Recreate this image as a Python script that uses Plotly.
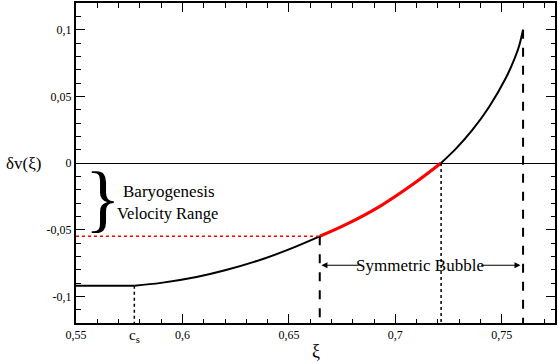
import plotly.graph_objects as go

# values
xi = [0.55, 0.5774, 0.59, 0.6066, 0.62, 0.6378, 0.65, 0.6645,
      0.6776, 0.6933, 0.7089, 0.7215, 0.7285, 0.7362, 0.7441, 0.7519, 0.7558, 0.7581, 0.76]
dv = [-0.092, -0.092, -0.0899, -0.0855, -0.0805, -0.072, -0.0648, -0.055,
      -0.0455, -0.0319, -0.0152, 0.0, 0.0108, 0.0248, 0.0422, 0.0637, 0.0776, 0.0876, 0.1]

cs = 0.5774          # sound speed
i_lo, i_hi = 7, 11   # red segment: baryogenesis velocity range
y_min, y_max = -0.12, 0.12
x_min, x_max = 0.55, 0.775

xtick_vals = [0.55, 0.6, 0.65, 0.7, 0.75]
xtick_text = ["0,55", "0,6", "0,65", "0,7", "0,75"]
ytick_vals = [-0.1, -0.05, 0, 0.05, 0.1]
ytick_text = ["-0,1", "-0,05", "0", "0,05", "0,1"]

font = "Liberation Serif, Times New Roman, DejaVu Serif, serif"

fig = go.Figure()

# curve
fig.add_trace(go.Scatter(x=xi[:2], y=dv[:2], mode="lines",
                         line=dict(color="black", width=2)))
fig.add_trace(go.Scatter(x=xi[1:i_lo + 1], y=dv[1:i_lo + 1], mode="lines",
                         line=dict(color="black", width=2, shape="spline", smoothing=1.0)))
fig.add_trace(go.Scatter(x=xi[i_lo:i_hi + 1], y=dv[i_lo:i_hi + 1], mode="lines",
                         line=dict(color="red", width=3.2, shape="spline", smoothing=1.0)))
fig.add_trace(go.Scatter(x=xi[i_hi:], y=dv[i_hi:], mode="lines",
                         line=dict(color="black", width=2, shape="spline", smoothing=0.8)))

# red dotted level
fig.add_trace(go.Scatter(x=[x_min, xi[i_lo]], y=[dv[i_lo], dv[i_lo]], mode="lines",
                         line=dict(color="red", width=1.5, dash="dot")))
# verticals
fig.add_trace(go.Scatter(x=[cs, cs], y=[dv[1], y_min], mode="lines",
                         line=dict(color="black", width=1.5, dash="dot")))
fig.add_trace(go.Scatter(x=[xi[i_lo], xi[i_lo]], y=[dv[i_lo], y_min], mode="lines",
                         line=dict(color="black", width=2, dash="dash")))
fig.add_trace(go.Scatter(x=[xi[i_hi], xi[i_hi]], y=[dv[i_hi], y_min], mode="lines",
                         line=dict(color="black", width=1.5, dash="dot")))
fig.add_trace(go.Scatter(x=[xi[-1], xi[-1]], y=[dv[-1], y_min], mode="lines",
                         line=dict(color="black", width=2, dash="dash")))

axis_common = dict(showgrid=False, showline=True, linecolor="black", linewidth=2,
                   mirror="allticks", ticks="inside", ticklen=9, tickwidth=1.2,
                   tickcolor="black", tickfont=dict(family=font, size=12, color="black"),
                   minor=dict(ticks="inside", ticklen=4.5, tickwidth=1, tickcolor="black", dtick=0.01))

fig.update_xaxes(range=[x_min, x_max], tickvals=xtick_vals, ticktext=xtick_text,
                 zeroline=False, **axis_common)
fig.update_yaxes(range=[y_min, y_max], tickvals=ytick_vals, ticktext=ytick_text,
                 zeroline=True, zerolinecolor="black", zerolinewidth=1, **axis_common)

ann = [
    dict(x=cs, y=y_min, xref="x", yref="y", text="c<sub>s</sub>", showarrow=False,
         yanchor="top", yshift=-2, font=dict(family=font, size=15, color="black")),
    dict(x=0.5 * (x_min + x_max), y=0, xref="x", yref="paper", text="ξ", showarrow=False,
         yanchor="top", yshift=-16, font=dict(family=font, size=18, color="black")),
    dict(x=0, y=0, xref="paper", yref="y", text="δv(ξ)", showarrow=False,
         xanchor="center", xshift=-53, font=dict(family=font, size=17, color="black")),
    dict(x=0.5626, y=-0.026, xref="x", yref="y", text="}", showarrow=False,
         font=dict(family=font, size=74, color="black")),
    dict(x=0.5938, y=-0.0215, xref="x", yref="y", text="Baryogenesis", showarrow=False,
         font=dict(family=font, size=17, color="black")),
    dict(x=0.5928, y=-0.0375, xref="x", yref="y", text="Velocity Range", showarrow=False,
         font=dict(family=font, size=16.5, color="black")),
    dict(x=0.7115, y=-0.0767, xref="x", yref="y", text="Symmetric Bubble", showarrow=False,
         font=dict(family=font, size=17, color="black")),
    dict(x=xi[i_lo] + 0.0008, y=-0.0767, ax=0.6835, ay=-0.0767, xref="x", yref="y",
         axref="x", ayref="y", text="", showarrow=True, arrowhead=2, arrowsize=1,
         arrowwidth=1.2, arrowcolor="black"),
    dict(x=xi[-1] - 0.0012, y=-0.0767, ax=0.7395, ay=-0.0767, xref="x", yref="y",
         axref="x", ayref="y", text="", showarrow=True, arrowhead=2, arrowsize=1,
         arrowwidth=1.2, arrowcolor="black"),
]

fig.update_layout(
    width=558, height=363,
    margin=dict(l=76, r=2, t=1, b=40),
    paper_bgcolor="white", plot_bgcolor="white",
    showlegend=False,
    annotations=ann,
)

fig.write_html("out.html", config={"displayModeBar": False},
               post_script="document.body.style.margin = '0';")
